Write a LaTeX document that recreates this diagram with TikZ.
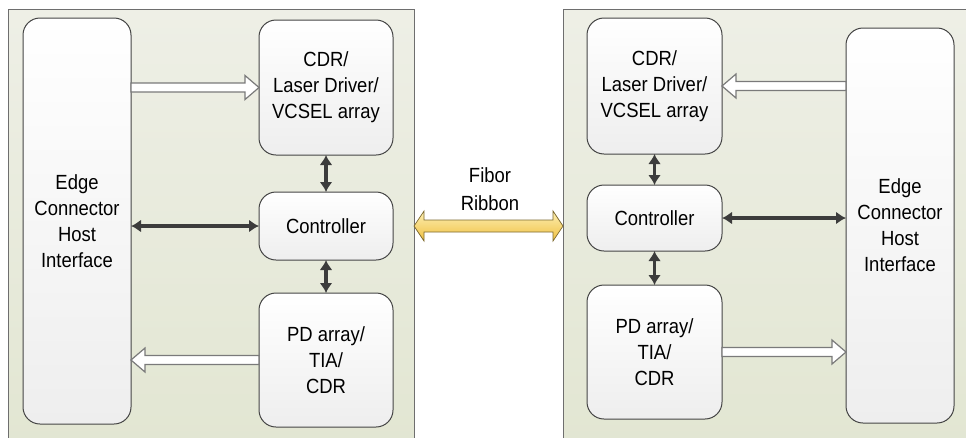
\documentclass[tikz,border=0pt]{standalone}
\usepackage{fontspec}
\setmainfont{Liberation Sans}[FakeStretch=0.9]
\usetikzlibrary{arrows.meta,positioning,calc}
\definecolor{paneltop}{HTML}{EEEFE6}
\definecolor{panelbot}{HTML}{E2E6D2}
\definecolor{panelline}{HTML}{6E6E6E}
\definecolor{boxline}{HTML}{454545}
\definecolor{boxbot}{HTML}{EEEEEE}
\definecolor{shade}{HTML}{C9C9C9}
\definecolor{darkarr}{HTML}{3C3C3C}
\definecolor{hollowline}{HTML}{7A7A7A}
\definecolor{fibtop}{HTML}{FCEFB4}
\definecolor{fibbot}{HTML}{F0C040}
\definecolor{fibline}{HTML}{7D6A30}
\tikzset{
  panel/.style={draw=panelline, line width=0.8pt, top color=paneltop, bottom color=panelbot, anchor=north west, outer sep=0pt},
  nodebox/.style={draw=boxline, line width=1pt, rounded corners=17pt, top color=white, bottom color=boxbot, align=center, inner sep=2pt, outer sep=0pt, font=\fontsize{20.5}{26}\selectfont},
  shadebox/.style={path picture={\fill[shade, sharp corners] ([xshift=-16pt]path picture bounding box.north east) rectangle (path picture bounding box.south east);}},
  arr/.style={{Latex[length=10pt,width=13pt]}-{Latex[length=10pt,width=13pt]}, line width=3.4pt, draw=darkarr},
  hollowarr/.style={draw=hollowline, fill=white, line width=1.2pt, line join=miter,
    to path={let \p1=(\tikztostart), \p2=(\tikztotarget), \n1={sign(\x2-\x1)} in
      (\x1,{\y1+4.5pt}) -- ({\x2-(\n1)*14pt},{\y1+4.5pt}) -- ({\x2-(\n1)*14pt},{\y1+12pt}) -- (\x2,\y1)
      -- ({\x2-(\n1)*14pt},{\y1-12pt}) -- ({\x2-(\n1)*14pt},{\y1-4.5pt}) -- (\x1,{\y1-4.5pt}) -- cycle}},
  fibarr/.style={draw=fibline, line width=0.7pt, top color=fibtop, bottom color=fibbot, line join=miter,
    to path={let \p1=(\tikztostart), \p2=(\tikztotarget) in
      (\x1,\y1) -- ({\x1+10pt},{\y1+15pt}) -- ({\x1+10pt},{\y1+6pt}) -- ({\x2-10pt},{\y1+6pt})
      -- ({\x2-10pt},{\y1+15pt}) -- (\x2,\y1) -- ({\x2-10pt},{\y1-15pt}) -- ({\x2-10pt},{\y1-6pt})
      -- ({\x1+10pt},{\y1-6pt}) -- ({\x1+10pt},{\y1-15pt}) -- cycle}}
}

\begin{document}
\begin{tikzpicture}[x=1pt, y=-1pt]
  \fill[white] (0,0) rectangle (966,437);
  \clip (0,0) rectangle (966,437);

  % panels
  \node[panel, minimum width=406pt, minimum height=440pt] (panelL) at (8,9) {};
  \node[panel, minimum width=420pt, minimum height=440pt] (panelR) at (563,9) {};

  % left module
  \node[nodebox, minimum width=108pt, minimum height=406pt] (edgeL) at (77,221) {Edge\\Connector\\Host\\Interface};
  \node[nodebox, minimum width=134pt, minimum height=135pt] (cdrL) at (326,87.5) {CDR/\\Laser Driver/\\VCSEL array};
  \node[nodebox, minimum width=134pt, minimum height=68pt, below=37pt of cdrL] (ctrlL) {Controller};
  \node[nodebox, minimum width=134pt, minimum height=134pt, below=33pt of ctrlL] (pdL) {PD array/\\TIA/\\CDR};

  % right module
  \node[nodebox, minimum width=135pt, minimum height=136pt] (cdrR) at (654.5,86) {CDR/\\Laser Driver/\\VCSEL array};
  \node[nodebox, minimum width=135pt, minimum height=66pt, below=31pt of cdrR] (ctrlR) {Controller};
  \node[nodebox, shadebox, minimum width=135pt, minimum height=134pt, below=34pt of ctrlR] (pdR) {PD array/\\TIA/\\CDR};
  \node[nodebox, shadebox, minimum width=108pt, minimum height=395pt] (edgeR) at (900,225.5) {Edge\\Connector\\Host\\Interface};

  % fibre link
  \node[align=center, font=\fontsize{20.5}{28}\selectfont] (fiborlbl) at (490,189) {Fibor\\Ribbon};
  \draw[fibarr] (panelL.east |- ctrlL.center) to (panelR.west |- ctrlL.center);

  % left connections
  \draw[hollowarr] (edgeL.east |- cdrL.west) to (cdrL.west);
  \draw[hollowarr] (pdL.west) to (edgeL.east |- pdL.west);
  \draw[arr] (edgeL.east |- ctrlL.west) -- (ctrlL.west);
  \draw[arr] (cdrL.south) -- (ctrlL.north);
  \draw[arr] (ctrlL.south) -- (pdL.north);

  % right connections
  \draw[hollowarr] (edgeR.west |- cdrR.east) to (cdrR.east);
  \draw[hollowarr] (pdR.east) to (edgeR.west |- pdR.east);
  \draw[arr] (ctrlR.east) -- (edgeR.west |- ctrlR.east);
  \draw[arr] (cdrR.south) -- (ctrlR.north);
  \draw[arr] (ctrlR.south) -- (pdR.north);
\end{tikzpicture}
\end{document}
